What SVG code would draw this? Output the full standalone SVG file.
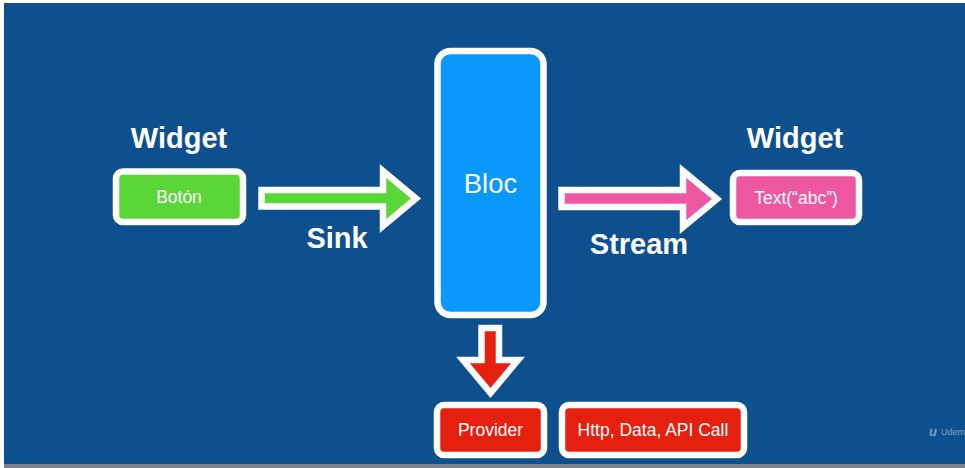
<svg xmlns="http://www.w3.org/2000/svg" width="965" height="468" viewBox="0 0 965 468">
  <style>
    .box { stroke: #ffffff; stroke-width: 6.5; }
    .arrow { stroke: #ffffff; stroke-width: 6.5; stroke-linejoin: miter; stroke-miterlimit: 10; }
    .title { font-family: "Liberation Sans", Arial, sans-serif; font-weight: bold; font-size: 29px; fill: #ffffff; text-anchor: middle; }
    .label { font-family: "Liberation Sans", Arial, sans-serif; font-size: 17.5px; fill: #ffffff; text-anchor: middle; }
  </style>

  <!-- slide background -->
  <rect x="0" y="0" width="965" height="468" fill="#ffffff"/>
  <rect x="4" y="3" width="961" height="461" fill="#0e4f8e"/>
  <rect x="4" y="464" width="961" height="4" fill="#7d838d"/>

  <!-- connectors -->
  <g id="connectors">
    <polygon class="arrow" fill="#5ad637" points="261.5,190 383,190 383,171 416,198.5 383,226 383,206.5 261.5,206.5"/>
    <polygon class="arrow" fill="#ee58a2" points="561.5,190 683,190 683,171 717,199 683,227 683,207 561.5,207"/>
    <polygon class="arrow" fill="#e5200f" points="481.5,328 499,328 499,360 518,360 490.5,393 463,360 481.5,360"/>
  </g>

  <g id="widget-left">
    <text class="title" x="179" y="148">Widget</text>
    <rect class="box" x="116" y="171.5" width="127" height="50.5" rx="7" fill="#5ad637"/>
    <text class="label" x="179" y="203">Botón</text>
  </g>

  <g id="sink-label">
    <text class="title" x="337" y="248">Sink</text>
  </g>

  <g id="bloc">
    <rect class="box" x="437.5" y="51" width="106" height="264" rx="13" fill="#0b98fb"/>
    <text x="490.5" y="193" font-family="'Liberation Sans', Arial, sans-serif" font-size="27.5" fill="#ffffff" text-anchor="middle">Bloc</text>
  </g>

  <g id="stream-label">
    <text class="title" x="639" y="254">Stream</text>
  </g>

  <g id="widget-right">
    <text class="title" x="795" y="148">Widget</text>
    <rect class="box" x="733" y="173" width="126" height="49" rx="7" fill="#ee58a2"/>
    <text class="label" x="796" y="204">Text(“abc”)</text>
  </g>

  <g id="provider">
    <rect class="box" x="437" y="405" width="107" height="50" rx="7" fill="#e5200f"/>
    <text class="label" x="490.5" y="436">Provider</text>
  </g>

  <g id="http">
    <rect class="box" x="562" y="405" width="182" height="50" rx="7" fill="#e5200f"/>
    <text class="label" x="653" y="436">Http, Data, API Call</text>
  </g>

  <!-- corner watermark -->
  <g id="watermark" opacity="0.55" font-family="'Liberation Sans', Arial, sans-serif" fill="#cfe0f2">
    <text x="929" y="436" font-size="13" font-weight="bold" font-style="italic">u</text>
    <text x="941" y="435" font-size="9">Udem</text>
  </g>
</svg>
